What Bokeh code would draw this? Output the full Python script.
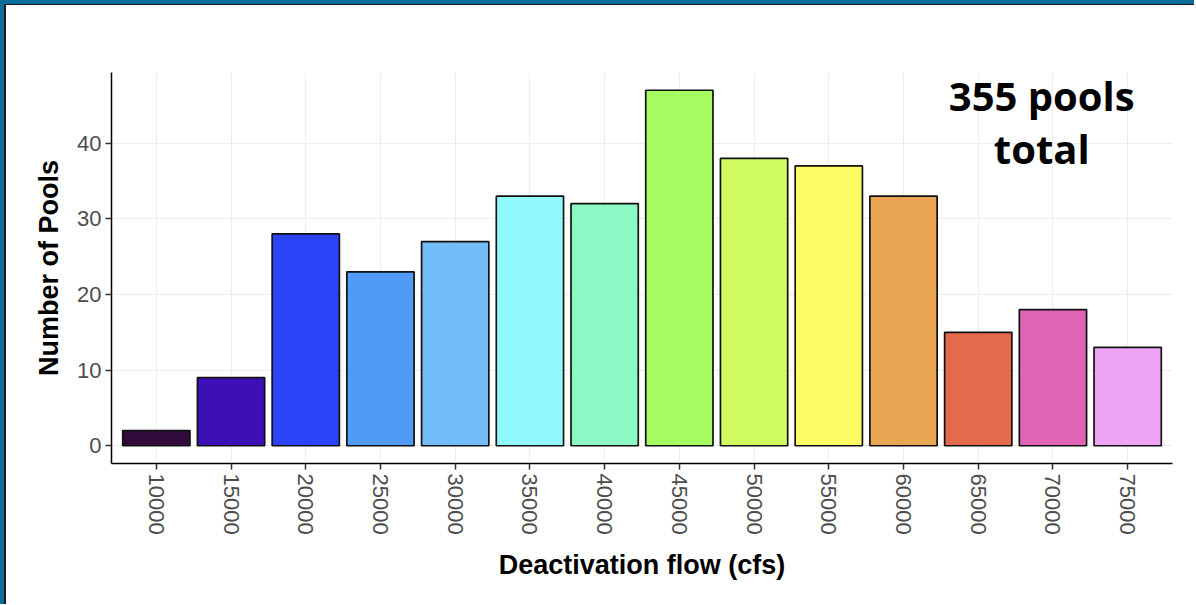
import math
from bokeh.plotting import figure
from bokeh.models import ColumnDataSource, FixedTicker, Range1d, Label
from bokeh.layouts import column
from bokeh.embed import file_html
from bokeh.resources import INLINE

flows = ["10000", "15000", "20000", "25000", "30000", "35000", "40000",
         "45000", "50000", "55000", "60000", "65000", "70000", "75000"]
counts = [2, 9, 28, 23, 27, 33, 32, 47, 38, 37, 33, 15, 18, 13]
colors = ["#320b3c", "#3c10b6", "#2b43f6", "#4f9bf5", "#72bdf8", "#8ff9fb",
          "#8cf9c4", "#a6fb62", "#d0fb60", "#fdfc66", "#e9a452", "#e46a4c",
          "#e064b6", "#eea3f5"]
annotation_lines = ["355 pools", "total"]

positions = list(range(len(flows)))
source = ColumnDataSource(dict(x=positions, count=counts, color=colors, flow=flows))

W, H = 1190, 600
p = figure(width=W, height=H, output_backend="svg", toolbar_location=None,
           x_range=Range1d(-0.6, len(flows) - 0.4), y_range=Range1d(-2.35, 49.35),
           min_border_left=105, min_border_right=24, min_border_top=67, min_border_bottom=142)

p.vbar(x="x", top="count", width=0.9, source=source, fill_color="color",
       line_color="#111111", line_width=1.7)

p.background_fill_color = "white"
p.border_fill_color = "white"
p.outline_line_color = None

# grid
p.xgrid.ticker = FixedTicker(ticks=positions)
p.ygrid.ticker = FixedTicker(ticks=[0, 10, 20, 30, 40])
for g in (p.xgrid, p.ygrid):
    g.grid_line_color = "#ededed"
    g.grid_line_width = 1

# x axis
xa = p.xaxis[0]
xa.ticker = FixedTicker(ticks=positions)
xa.major_label_overrides = {i: f for i, f in zip(positions, flows)}
xa.major_label_orientation = -math.pi / 2
xa.axis_label = "Deactivation flow (cfs)"

ya = p.yaxis[0]
ya.ticker = FixedTicker(ticks=[0, 10, 20, 30, 40])
ya.axis_label = "Number of Pools"

for ax in (xa, ya):
    ax.axis_line_color = "black"
    ax.axis_line_width = 1.5
    ax.major_tick_line_color = "#333333"
    ax.major_tick_line_width = 1.5
    ax.major_tick_out = 6
    ax.major_tick_in = 0
    ax.minor_tick_line_color = None
    ax.major_label_text_font = "Liberation Sans"
    ax.major_label_text_font_size = "22px"
    ax.major_label_text_color = "#4d4d4d"
    ax.axis_label_text_font = "Liberation Sans"
    ax.axis_label_text_font_style = "bold"
    ax.axis_label_text_font_size = "27px"
    ax.axis_label_text_color = "black"
    ax.major_label_standoff = 4

xa.axis_label_standoff = 12
ya.axis_label_standoff = 10

# annotation text
for txt, yv in zip(annotation_lines, [46.3, 39.3]):
    p.add_layout(Label(x=11.85, y=yv, text=txt, text_align="center",
                       text_baseline="alphabetic", text_font="Open Sans",
                       text_font_style="bold", text_font_size="40px",
                       text_color="black"))

p.styles = {"border-left": "2px solid #1a1a1a", "border-top": "1px solid #1a1a1a"}
layout = column(p, styles={"border-left": "4px solid #0b6e98", "border-top": "4px solid #0b6e98",
                           "background": "white"})

open("out.html", "w").write(file_html(layout, INLINE))
